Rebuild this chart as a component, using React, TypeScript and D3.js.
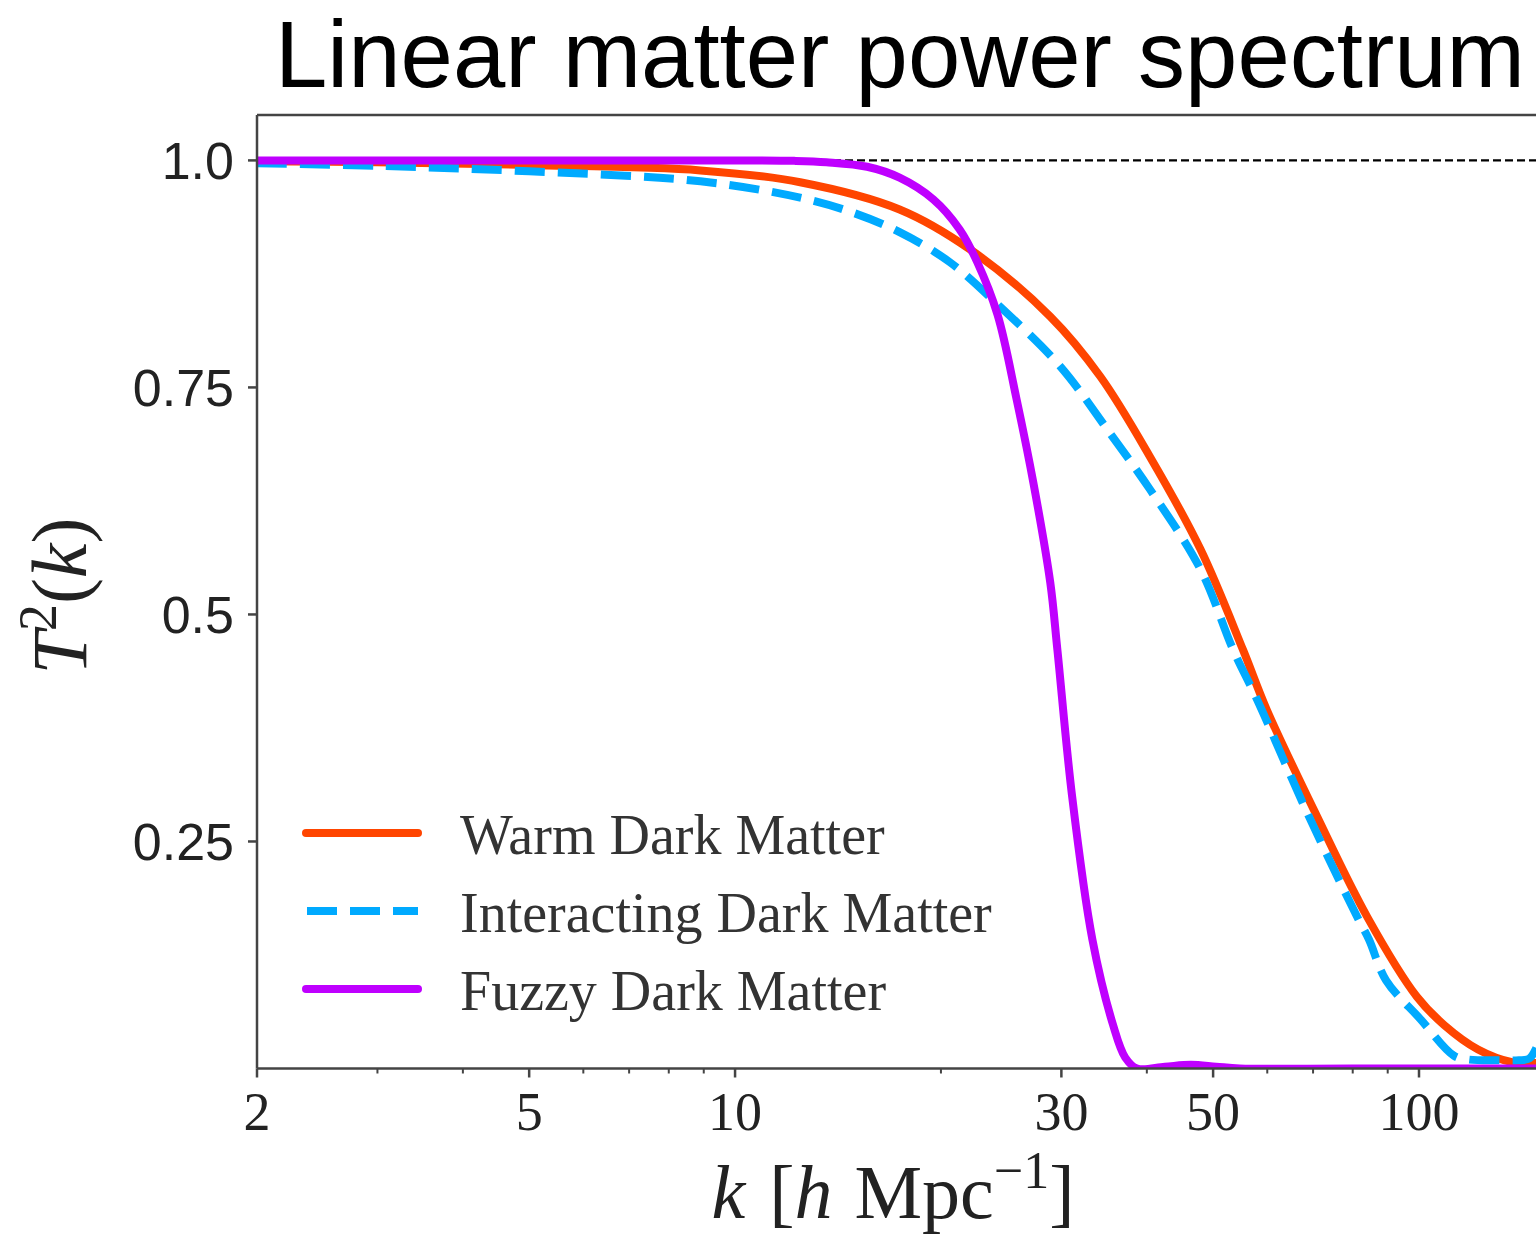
import React from "react";
import * as d3 from "d3";

// Squared transfer functions T^2(k) for three non-cold dark matter models
const kWdm = [2, 3, 5, 8.9, 12.45, 17.4, 22.06, 28.9, 34.2, 40.4, 47.9, 55.3, 59.9, 70.9, 84.0, 99.3, 108.8, 122, 136.8, 148, 155];
const tWdm = [0.999, 0.998, 0.995, 0.989, 0.976, 0.946, 0.902, 0.828, 0.762, 0.674, 0.572, 0.461, 0.395, 0.278, 0.167, 0.079, 0.048, 0.021, 0.007, 0.006, 0.009];

const kIdm = [2, 3, 5, 8.9, 12.45, 14.8, 17.4, 20.6, 24.4, 29.9, 35.3, 40.4, 47.9, 53.5, 58.0, 68.6, 81.2, 84.5, 89.5, 100.3, 112.5, 117.9, 130.5, 140, 145, 148.3, 152];
const tIdm = [0.997, 0.994, 0.988, 0.977, 0.959, 0.943, 0.921, 0.888, 0.839, 0.773, 0.7, 0.638, 0.55, 0.461, 0.406, 0.282, 0.167, 0.142, 0.097, 0.055, 0.014, 0.01, 0.009, 0.009, 0.011, 0.022, 0.045];

const kFdm = [2, 5, 10, 12.2, 13.6, 15.6, 17.4, 19.5, 21.3, 22.6, 24.2, 25.8, 27.3, 28.9, 29.6, 31.1, 33.3, 35.7, 37.2, 38.7, 42.5, 46.4, 50.5, 54.7, 80, 155];
const tFdm = [1.0, 1.0, 1.0, 0.9995, 0.998, 0.993, 0.981, 0.957, 0.924, 0.888, 0.83, 0.737, 0.645, 0.535, 0.461, 0.3, 0.142, 0.048, 0.012, 0.0, 0.002, 0.004, 0.002, 0.0, 0.0, 0.0];

const seriesNames = ["Warm Dark Matter", "Interacting Dark Matter", "Fuzzy Dark Matter"];
const seriesColors = ["#ff4500", "#00aaff", "#bf00ff"];

const xMajorTicks = [2, 5, 10, 30, 50, 100];
const xMinorTicks = [3, 4, 6, 7, 8, 9, 20, 40, 60, 70, 80, 90, 200];
const yTicks = [1.0, 0.75, 0.5, 0.25];
const yTickLabels = ["1.0", "0.75", "0.5", "0.25"];

const W = 1536;
const H = 1243;
const left = 257;
const top = 115;
const bottom = 1068.5;
const right = 1640;

export default function App() {
  const x = d3.scaleLog().domain([2, 100]).range([257, 1419]);
  const y = d3.scaleLinear().domain([0, 1.05]).range([bottom, top]);

  const line = d3
    .line<[number, number]>()
    .x((d) => x(d[0]))
    .y((d) => y(d[1]))
    .curve(d3.curveCatmullRom.alpha(0.5));

  const zip = (ks: number[], ts: number[]) => ks.map((k, i) => [k, ts[i]] as [number, number]);
  const paths = [zip(kWdm, tWdm), zip(kIdm, tIdm), zip(kFdm, tFdm)].map((d) => line(d) || "");

  const spine = "#444";
  const serif = "'Liberation Serif', 'Times New Roman', serif";
  const sans = "'Liberation Sans', Arial, Helvetica, sans-serif";

  const legendY = [833, 911, 989];

  return (
    <svg
      width={W}
      height={H}
      style={{ position: "absolute", left: 0, top: 0, background: "#fff" }}
      xmlns="http://www.w3.org/2000/svg"
    >
      <defs>
        <clipPath id="plotArea">
          <rect x={left} y={top} width={right - left} height={bottom - top} />
        </clipPath>
      </defs>

      <text x={275} y={87} fontFamily={sans} fontSize={94} fill="#000" textLength={1250} lengthAdjust="spacingAndGlyphs">
        Linear matter power spectrum
      </text>

      <g clipPath="url(#plotArea)">
        <line
          x1={left}
          x2={right}
          y1={y(1)}
          y2={y(1)}
          stroke="#000"
          strokeWidth={2.2}
          strokeDasharray="8,4"
        />
        <path d={paths[0]} fill="none" stroke={seriesColors[0]} strokeWidth={8} strokeLinejoin="round" strokeLinecap="round" />
        <path d={paths[1]} fill="none" stroke={seriesColors[1]} strokeWidth={8} strokeDasharray="30,13" />
        <path d={paths[2]} fill="none" stroke={seriesColors[2]} strokeWidth={8} strokeLinejoin="round" strokeLinecap="round" />
      </g>

      {/* frame */}
      <line x1={left} x2={left} y1={top} y2={bottom} stroke={spine} strokeWidth={2.5} />
      <line x1={left} x2={right} y1={top} y2={top} stroke={spine} strokeWidth={2.5} />
      <line x1={left} x2={right} y1={bottom} y2={bottom} stroke={spine} strokeWidth={2.5} />

      {/* y axis ticks */}
      {yTicks.map((t, i) => (
        <g key={"y" + t}>
          <line x1={left - 9} x2={left} y1={y(t)} y2={y(t)} stroke={spine} strokeWidth={2.5} />
          <text
            x={234}
            y={y(t)}
            dy="0.36em"
            textAnchor="end"
            fontFamily={sans}
            fontSize={52}
            fill="#222"
          >
            {yTickLabels[i]}
          </text>
        </g>
      ))}

      {/* x axis ticks */}
      {xMinorTicks.map((t) => (
        <line key={"m" + t} x1={x(t)} x2={x(t)} y1={bottom} y2={bottom + 5} stroke={spine} strokeWidth={2} />
      ))}
      {xMajorTicks.map((t) => (
        <g key={"x" + t}>
          <line x1={x(t)} x2={x(t)} y1={bottom} y2={bottom + 9} stroke={spine} strokeWidth={2.5} />
          <text x={x(t)} y={1130} textAnchor="middle" fontFamily={serif} fontSize={54} fill="#222">
            {t}
          </text>
        </g>
      ))}

      {/* axis titles */}
      <text x={893} y={1218} textAnchor="middle" fontFamily={serif} fontSize={76} fill="#222">
        <tspan fontStyle="italic">k</tspan>
        <tspan dx={24}>[</tspan>
        <tspan fontStyle="italic">h</tspan>
        <tspan dx={22}>Mpc</tspan>
        <tspan dy={-30} fontSize={52}>−1</tspan>
        <tspan dy={30}>]</tspan>
      </text>
      <text
        transform="translate(86,596) rotate(-90)"
        textAnchor="middle"
        fontFamily={serif}
        fontSize={78}
        fill="#222"
      >
        <tspan fontStyle="italic">T</tspan>
        <tspan dy={-30} fontSize={54}>2</tspan>
        <tspan dy={30}>(</tspan>
        <tspan fontStyle="italic">k</tspan>
        <tspan>)</tspan>
      </text>

      {/* legend */}
      {seriesNames.map((name, i) => (
        <g key={name}>
          <line
            x1={i === 1 ? 307 : 306}
            x2={418}
            y1={legendY[i]}
            y2={legendY[i]}
            stroke={seriesColors[i]}
            strokeWidth={8}
            strokeLinecap={i === 1 ? "butt" : "round"}
            strokeDasharray={i === 1 ? "30,13" : undefined}
          />
          <text x={460} y={legendY[i] + 21} fontFamily={serif} fontSize={56} fill="#333">
            {name}
          </text>
        </g>
      ))}
    </svg>
  );
}
